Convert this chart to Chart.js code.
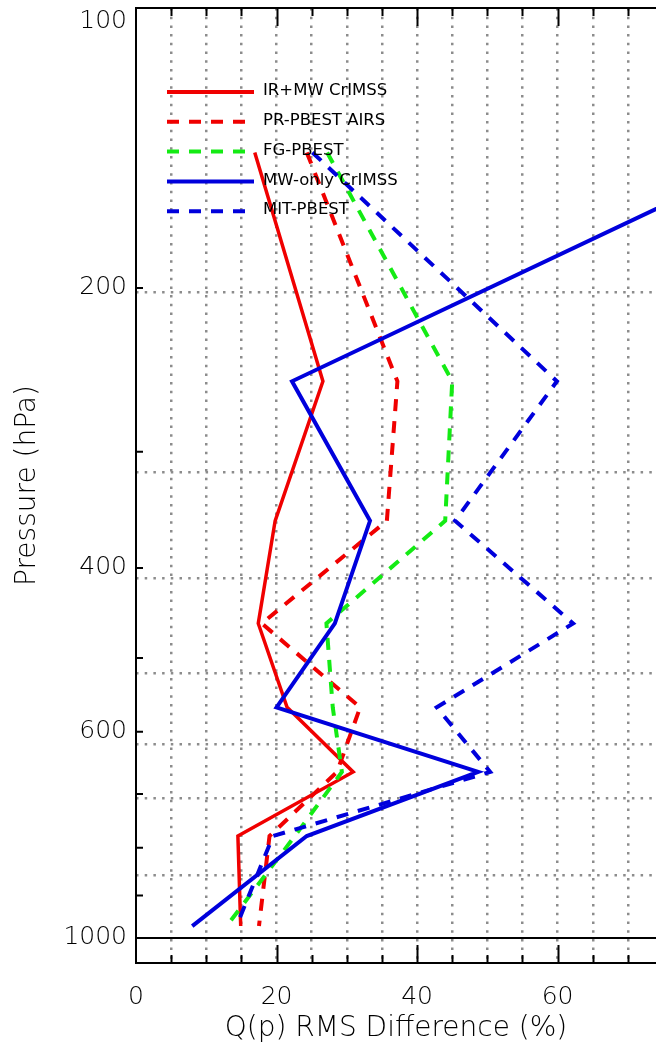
<!DOCTYPE html>
<html>
<head>
<meta charset="utf-8">
<script src="https://cdn.jsdelivr.net/npm/chart.js@4.4.1/dist/chart.umd.min.js"></script>
<style>
  html, body { margin: 0; padding: 0; background: #fff; }
  #wrap { width: 656px; height: 1046px; position: relative; }
</style>
</head>
<body>
<div id="wrap"><canvas id="c"></canvas></div>
<script>
// pressure levels (hPa) of the profile vertices
const pressureLevels = [143, 252, 356, 459, 565, 663, 777, 971];

// RMS difference (%) per level
const irmwCrimss   = [16.9, 26.6, 19.8, 17.4, 21.5, 30.9, 14.5, 14.9];
const prPbestAirs  = [24.3, 37.2, 35.7, 17.9, 31.9, 28.6, 19.0, 17.5];
const fgPbest      = [27.2, 45.0, 44.0, 27.1, 28.0, 29.3, 22.6, 12.9];
const mwOnlyCrimss = [91.0, 22.2, 33.3, 28.3, 20.0, 48.7, 24.3, 8.0];
const mitPbest     = [25.1, 59.9, 45.4, 62.2, 42.8, 50.4, 19.5, 14.3];

const seriesNames = ['IR+MW CrIMSS', 'PR-PBEST AIRS', 'FG-PBEST', 'MW-only CrIMSS', 'MIT-PBEST'];

// axis ticks
const xTickValues = [0, 5, 10, 15, 20, 25, 30, 35, 40, 45, 50, 55, 60, 65, 70];
const yLabelValues = [100, 200, 400, 600, 1000];
const yMinorValues = [100, 200, 300, 400, 500, 600, 700, 800, 900];
const yGridValues = [202, 316, 410, 519, 619, 707, 856];

const RED = 'rgb(240,0,0)', GREEN = 'rgb(20,235,20)', BLUE = 'rgb(0,0,220)';
const DASH = [12, 10];

function profile(vals) {
  return vals.map((v, i) => ({ x: v, y: pressureLevels[i] }));
}

const frameTicks = {
  id: 'frameTicks',
  beforeDatasetsDraw(chart) {
    const { ctx, chartArea: a, scales: { y } } = chart;
    const py = y.getPixelForValue(1000);
    ctx.save();
    ctx.strokeStyle = '#000';
    ctx.lineWidth = 2;
    ctx.beginPath();
    ctx.moveTo(a.left, py);
    ctx.lineTo(a.right, py);
    ctx.stroke();
    ctx.restore();
  },
  afterDatasetsDraw(chart) {
    const { ctx, chartArea: a, scales: { x, y } } = chart;
    ctx.save();
    ctx.strokeStyle = '#000';
    ctx.lineWidth = 2;
    ctx.beginPath();
    ctx.moveTo(a.left - 1, a.top);
    ctx.lineTo(a.right, a.top);
    xTickValues.forEach(v => {
      if (v === 0) return;
      const px = Math.round(x.getPixelForValue(v)) + 0.5;
      const len = v % 20 === 0 ? 18 : 8;
      ctx.moveTo(px, a.top);
      ctx.lineTo(px, a.top + len);
      ctx.moveTo(px, a.bottom);
      ctx.lineTo(px, a.bottom - len);
    });
    yMinorValues.forEach(v => {
      const py = y.getPixelForValue(v);
      ctx.moveTo(a.left, py);
      ctx.lineTo(a.left + 7, py);
    });
    ctx.stroke();

    // legend
    const lx = a.left + 31, ly = a.top + 84, step = 29.8;
    ctx.font = '16.5px "DejaVu Sans"';
    ctx.textBaseline = 'middle';
    ctx.fillStyle = '#000';
    chart.data.datasets.forEach((ds, i) => {
      const yy = ly + i * step;
      ctx.strokeStyle = ds.borderColor;
      ctx.lineWidth = 4;
      ctx.setLineDash(ds.borderDash || []);
      ctx.beginPath();
      ctx.moveTo(lx, yy);
      ctx.lineTo(lx + 87, yy);
      ctx.stroke();
      ctx.setLineDash([]);
      ctx.fillText(ds.label, lx + 96, yy - 1);
    });
    ctx.restore();
  }
};

const mk = (i, vals, color, dash, width) => ({
  label: seriesNames[i],
  data: profile(vals),
  borderColor: color,
  backgroundColor: color,
  borderWidth: width,
  borderDash: dash,
  pointRadius: 0,
  tension: 0,
  fill: false,
  order: 5 - i
});

new Chart(document.getElementById('c'), {
  type: 'line',
  data: {
    datasets: [
      mk(0, irmwCrimss, RED, [], 3.5),
      mk(1, prPbestAirs, RED, DASH, 4),
      mk(2, fgPbest, GREEN, DASH, 4),
      mk(3, mwOnlyCrimss, BLUE, [], 4),
      mk(4, mitPbest, BLUE, DASH, 4)
    ]
  },
  options: {
    responsive: true,
    maintainAspectRatio: false,
    animation: false,
    layout: { padding: { top: 8, right: 0, left: 0, bottom: 0 } },
    plugins: { legend: { display: false }, tooltip: { enabled: false } },
    scales: {
      x: {
        type: 'linear',
        min: 0,
        max: 74,
        afterBuildTicks: s => { s.ticks = xTickValues.map(v => ({ value: v })); },
        afterFit: s => { s.height = 83; s.paddingLeft = 0; s.paddingRight = 0; },
        ticks: {
          autoSkip: false,
          maxRotation: 0,
          padding: 19,
          color: '#000',
          font: { family: 'DejaVu Sans', size: 25, weight: 200 },
          callback: v => (v % 20 === 0 ? String(v) : '')
        },
        grid: {
          drawTicks: false,
          lineWidth: 2.5,
          color: c => (c.tick && c.tick.value === 0 ? 'rgba(0,0,0,0)' : '#8c8c8c')
        },
        border: { display: true, color: '#000', width: 2, dash: [2.5, 6.2] },
        title: {
          display: true,
          text: 'Q(p) RMS Difference (%)',
          color: '#000',
          font: { family: 'DejaVu Sans', size: 28, weight: 200 },
          padding: { top: 0, bottom: 0 }
        }
      },
      y: {
        type: 'logarithmic',
        reverse: true,
        min: 100,
        max: 1064,
        position: 'left',
        afterBuildTicks: s => { s.ticks = yLabelValues.map(v => ({ value: v })); },
        afterFit: s => { s.width = 136; s.paddingTop = 0; s.paddingBottom = 0; },
        ticks: {
          autoSkip: false,
          padding: 9,
          color: '#000',
          font: c => (c.tick && c.tick.value === 100
            ? { family: 'DejaVu Sans', size: 25, weight: 200, lineHeight: 1.04 }
            : { family: 'DejaVu Sans', size: 25, weight: 200 }),
          callback: v => (v === 100 ? ['', '100'] : String(v))
        },
        grid: { display: false, drawTicks: false },
        border: { display: true, color: '#000', width: 2 },
        title: {
          display: true,
          text: 'Pressure (hPa)',
          color: '#000',
          font: { family: 'DejaVu Sans', size: 28, weight: 200 },
          padding: { top: 11, bottom: 0 }
        }
      },
      yg: {
        type: 'logarithmic',
        reverse: true,
        min: 100,
        max: 1064,
        position: 'left',
        afterBuildTicks: s => { s.ticks = yGridValues.map(v => ({ value: v })); },
        afterFit: s => { s.width = 0; s.paddingTop = 0; s.paddingBottom = 0; },
        ticks: { display: false },
        grid: { drawTicks: false, lineWidth: 2.5, color: '#8c8c8c' },
        border: { display: false, dash: [2.5, 6.2] }
      }
    }
  },
  plugins: [frameTicks]
});
</script>
</body>
</html>
